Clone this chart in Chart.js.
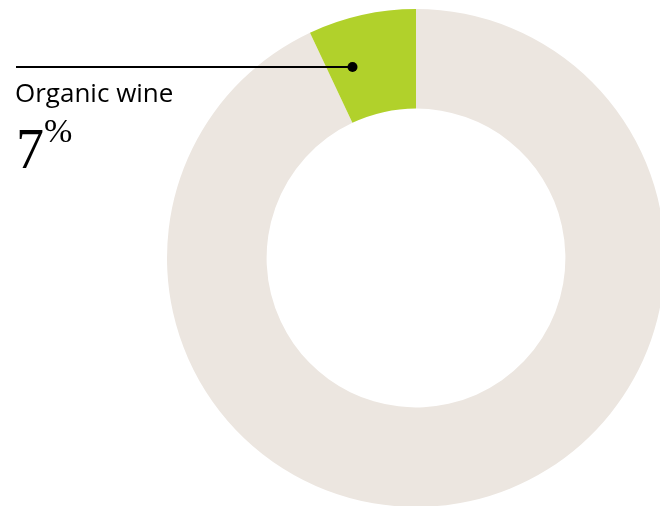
<!DOCTYPE html>
<html>
<head>
<meta charset="utf-8">
<script src="https://cdn.jsdelivr.net/npm/chart.js@4/dist/chart.umd.min.js"></script>
<style>
  html, body { margin: 0; padding: 0; background: #fff; overflow: hidden; width: 660px; height: 506px; }
  #wrap { position: absolute; left: 0; top: 0; width: 832px; height: 516px; }
</style>
</head>
<body>
<div id="wrap"><canvas id="wineChart"></canvas></div>
<script>
// share of wine sales
const categories = ["Other wine", "Organic wine"];
const shares = [93, 7];
const sliceColors = ["#ece6e0", "#b1d12b"];
const highlightIndex = 1;

// callout: line + dot on the highlighted slice, label and value underneath
const calloutPlugin = {
  id: "callout",
  afterDraw(chart) {
    const ctx = chart.ctx;
    const arc = chart.getDatasetMeta(0).data[highlightIndex];
    const p = arc.getProps(["x", "y", "startAngle", "endAngle", "innerRadius", "outerRadius"], true);
    const angle = p.startAngle + (p.endAngle - p.startAngle) * 0.27;
    const r = p.innerRadius + (p.outerRadius - p.innerRadius) * 0.52;
    const dx = p.x + Math.cos(angle) * r;
    const dy = p.y + Math.sin(angle) * r;

    ctx.save();
    ctx.strokeStyle = "#000";
    ctx.lineWidth = 2;
    ctx.beginPath();
    ctx.moveTo(16, dy);
    ctx.lineTo(dx, dy);
    ctx.stroke();

    ctx.fillStyle = "#000";
    ctx.beginPath();
    ctx.arc(dx, dy, 5, 0, Math.PI * 2);
    ctx.fill();

    ctx.textBaseline = "alphabetic";
    ctx.textAlign = "left";
    ctx.font = "26px 'Open Sans'";
    ctx.fillText(categories[highlightIndex], 15, 102);

    ctx.font = "56px 'Liberation Serif'";
    const num = String(shares[highlightIndex]);
    ctx.fillText(num, 16, 168);
    const w = ctx.measureText(num).width;
    ctx.font = "34px 'Liberation Serif'";
    ctx.fillText("%", 16 + w, 142);
    ctx.restore();
  }
};

new Chart(document.getElementById("wineChart"), {
  type: "doughnut",
  data: {
    labels: categories,
    datasets: [{
      data: shares,
      backgroundColor: sliceColors,
      borderWidth: 0
    }]
  },
  options: {
    responsive: true,
    maintainAspectRatio: false,
    animation: false,
    cutout: "60%",
    layout: { padding: 9 },
    events: [],
    plugins: {
      legend: { display: false },
      tooltip: { enabled: false }
    }
  },
  plugins: [calloutPlugin]
});
</script>
</body>
</html>
